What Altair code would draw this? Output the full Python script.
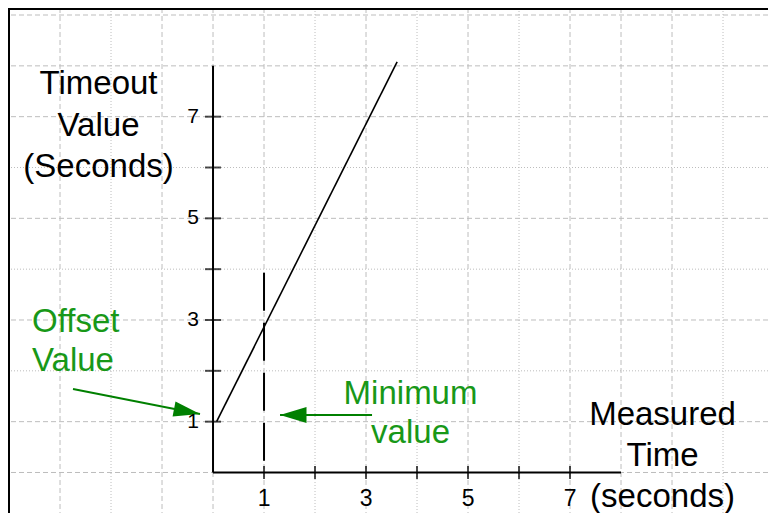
import altair as alt
import pandas as pd

# ---------------- data ----------------
# plot window in data units
X_DOMAIN = [-4.02, 10.882]
Y_DOMAIN = [-0.797, 9.138]

# timeout line: starts at the offset value, rises with measured time
line_x = [0.07, 3.61]
line_y = [1.0, 8.08]

# axes (both run from 0 to 8)
axis_x = [0, 0]
axis_y = [0, 0]
axis_x2 = [0, 8]
axis_y2 = [8, 0]

tick_values = [1, 2, 3, 4, 5, 6, 7]
label_values = [1, 3, 5, 7]

# minimum value marker (dashed vertical at x = 1)
min_x = [1]
min_top = [3.93]
min_bottom = [0]

# background grid
grid_x = [-3, -2, -1, 0, 1, 2, 3, 4, 5, 6, 7, 8, 9, 10]
grid_x_style = ["dash", "dot", "dash", "dash", "dash", "dot", "dash", "dot",
                "dash", "dot", "dash", "dash", "dash", "dot"]
grid_y = [0, 1, 2, 3, 4, 5, 6, 7, 8, 9]
grid_y_style = ["dash", "dash", "dot", "dash", "dot", "dash", "dot", "dash",
                "dash", "dash"]

# annotation arrows (tail -> tip)
offset_arrow = {"x": [-2.745], "y": [1.643], "x2": [-0.255], "y2": [1.151]}
minimum_arrow = {"x": [3.118], "y": [1.131], "x2": [1.314], "y2": [1.131]}

# titles / annotations
black_text = ["Timeout", "Value", "(Seconds)", "Measured", "Time", "(seconds)"]
black_x = [-2.245, -2.245, -2.245, 8.814, 8.814, 8.814]
black_y = [7.445, 6.619, 5.813, 0.934, 0.128, -0.673]

offset_text = ["Offset", "Value"]
offset_x = [-3.549, -3.549]
offset_y = [2.764, 1.997]

minimum_text = ["Minimum", "value"]
minimum_x = [3.873, 3.873]
minimum_y = [1.348, 0.580]

W, H = 760, 505
FONT = "Liberation Sans"
GREEN_TEXT = "#189818"
GREEN = "#008000"
GRID = "#bdbdbd"

# ---------------- encodings ----------------
xs = alt.Scale(domain=X_DOMAIN, nice=False, zero=False)
ys = alt.Scale(domain=Y_DOMAIN, nice=False, zero=False)


def X(f):
    return alt.X(f, type="quantitative", scale=xs, axis=None)


def Y(f):
    return alt.Y(f, type="quantitative", scale=ys, axis=None)


dash_scale = alt.Scale(domain=["dash", "dot"], range=[[5, 3], [1, 2]])

# grid
vgrid = alt.Chart(pd.DataFrame({"x": grid_x, "style": grid_x_style})).mark_rule(
    color=GRID, strokeWidth=1
).encode(x=X("x"), strokeDash=alt.StrokeDash("style:N", scale=dash_scale, legend=None))

hgrid = alt.Chart(pd.DataFrame({"y": grid_y, "style": grid_y_style})).mark_rule(
    color=GRID, strokeWidth=1
).encode(y=Y("y"), strokeDash=alt.StrokeDash("style:N", scale=dash_scale, legend=None))

# frame (left and top edges)
frame_df = alt.Data(values=[{"a": 1}])
frame_left = alt.Chart(frame_df).mark_rule(color="black", strokeWidth=4).encode(
    x=alt.value(0), y=alt.value(0), y2=alt.value(H)
)
frame_top = alt.Chart(frame_df).mark_rule(color="black", strokeWidth=4).encode(
    x=alt.value(0), x2=alt.value(W), y=alt.value(0)
)

# axes
axes = alt.Chart(pd.DataFrame({"x": axis_x, "y": axis_y, "x2": axis_x2, "y2": axis_y2})).mark_rule(
    color="black", strokeWidth=2
).encode(x=X("x"), y=Y("y"), x2="x2:Q", y2="y2:Q")

ytick = alt.Chart(pd.DataFrame({"v": tick_values, "z": [0] * len(tick_values)})).mark_tick(
    orient="horizontal", color="black", size=16, thickness=2
).encode(x=X("z"), y=Y("v"))

xtick = alt.Chart(pd.DataFrame({"v": tick_values, "z": [0] * len(tick_values)})).mark_tick(
    orient="vertical", color="black", size=13, thickness=2
).encode(x=X("v"), y=Y("z"))

ylab = alt.Chart(pd.DataFrame({"v": label_values, "z": [0] * len(label_values)})).mark_text(
    align="right", baseline="middle", dx=-14, font=FONT, fontSize=21, color="black"
).encode(x=X("z"), y=Y("v"), text="v:N")

xlab = alt.Chart(pd.DataFrame({"v": label_values, "z": [0] * len(label_values)})).mark_text(
    align="center", baseline="alphabetic", dy=34, font=FONT, fontSize=23, color="black"
).encode(x=X("v"), y=Y("z"), text="v:N")

# minimum value dashed line
minline = alt.Chart(pd.DataFrame({"x": min_x, "y": min_top, "y2": min_bottom})).mark_rule(
    color="black", strokeWidth=2, strokeDash=[38, 12]
).encode(x=X("x"), y=Y("y"), y2="y2:Q")

# timeout line
tline = alt.Chart(pd.DataFrame({"x": line_x, "y": line_y})).mark_line(
    color="black", strokeWidth=1.6
).encode(x=X("x"), y=Y("y"))

# arrows
off_line = alt.Chart(pd.DataFrame(offset_arrow)).mark_rule(color=GREEN, strokeWidth=2).encode(
    x=X("x"), y=Y("y"), x2="x2:Q", y2="y2:Q"
)
off_head = alt.Chart(pd.DataFrame(offset_arrow)).mark_point(
    shape="M 0 0 L -2 -0.58 L -2 0.58 Z", size=700, filled=True, color=GREEN,
    opacity=1, angle=11
).encode(x=X("x2"), y=Y("y2"))

min_line = alt.Chart(pd.DataFrame(minimum_arrow)).mark_rule(color=GREEN, strokeWidth=2).encode(
    x=X("x"), y=Y("y"), x2="x2:Q", y2="y2:Q"
)
min_head = alt.Chart(pd.DataFrame(minimum_arrow)).mark_point(
    shape="M 0 0 L 2 -0.6 L 2 0.6 Z", size=700, filled=True, color=GREEN, opacity=1
).encode(x=X("x2"), y=Y("y2"))

# texts
t_black = alt.Chart(pd.DataFrame({"t": black_text, "x": black_x, "y": black_y})).mark_text(
    align="center", baseline="alphabetic", font=FONT, fontSize=33, color="black"
).encode(x=X("x"), y=Y("y"), text="t:N")

t_offset = alt.Chart(pd.DataFrame({"t": offset_text, "x": offset_x, "y": offset_y})).mark_text(
    align="left", baseline="alphabetic", font=FONT, fontSize=33, color=GREEN_TEXT
).encode(x=X("x"), y=Y("y"), text="t:N")

t_min = alt.Chart(pd.DataFrame({"t": minimum_text, "x": minimum_x, "y": minimum_y})).mark_text(
    align="center", baseline="alphabetic", font=FONT, fontSize=33, color=GREEN_TEXT
).encode(x=X("x"), y=Y("y"), text="t:N")

chart = alt.layer(
    vgrid, hgrid, axes, minline, ytick, xtick, tline,
    off_line, off_head, min_line, min_head,
    ylab, xlab, t_black, t_offset, t_min, frame_left, frame_top
).properties(
    width=W, height=H, padding=0,
    autosize=alt.AutoSizeParams(type="none"),
    background="white",
).configure_view(stroke=None)

chart.save("out.html", embed_options={"renderer": "svg", "actions": False})
